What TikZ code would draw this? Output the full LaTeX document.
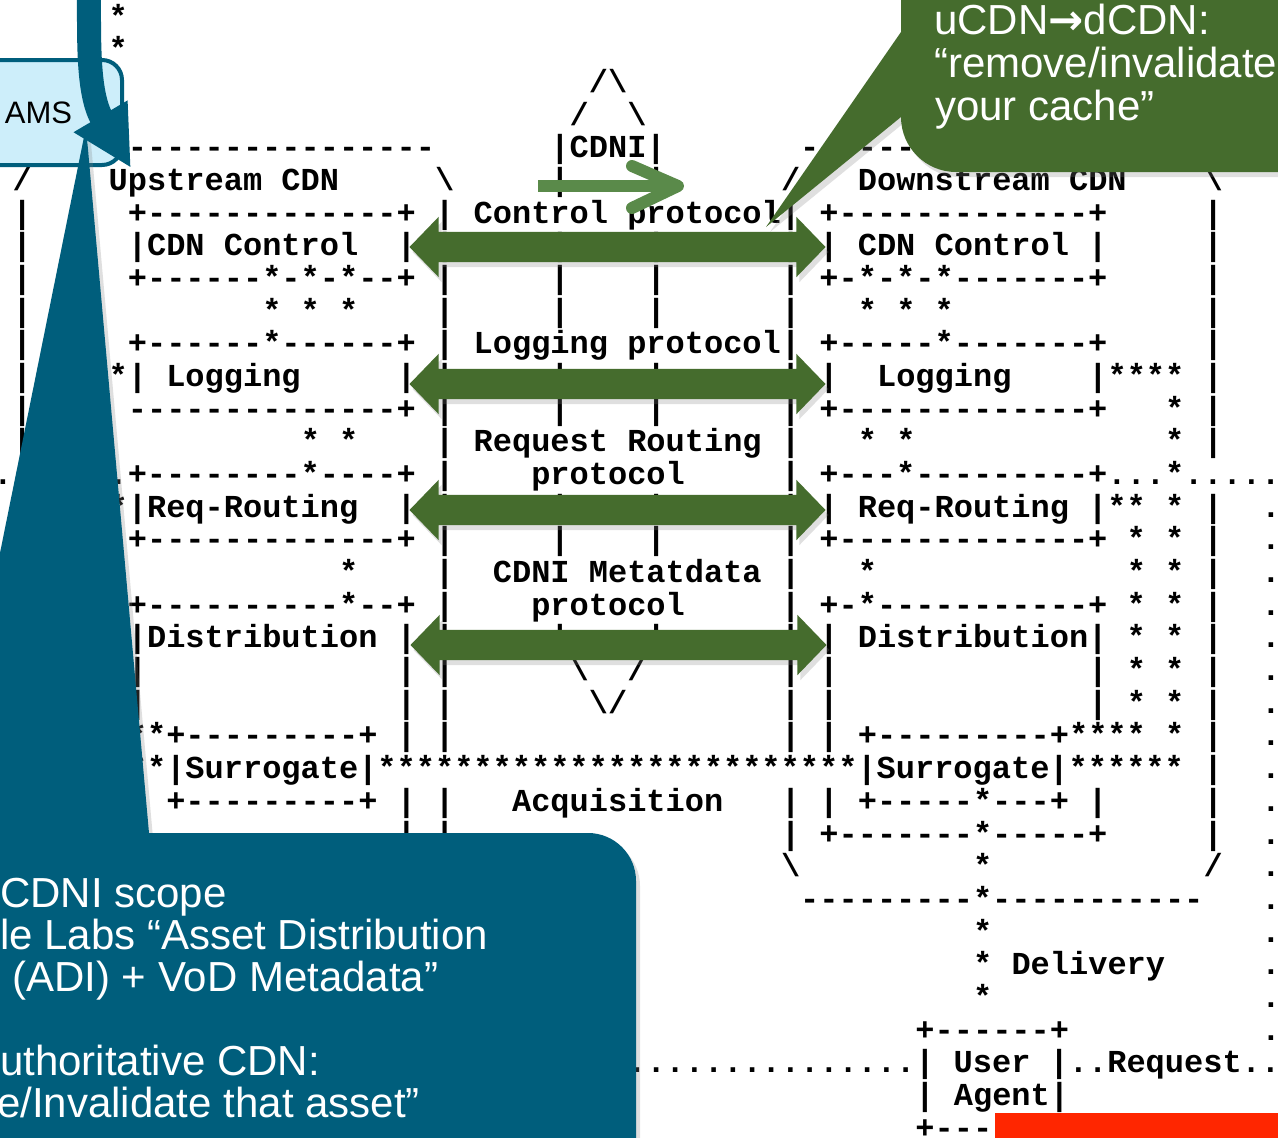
\documentclass[tikz,border=0pt]{standalone}
\usepackage{fontspec}
\setmonofont{Liberation Mono}
\setsansfont{Liberation Sans}
\newfontfamily\arrowfont{DejaVu Sans}
\usetikzlibrary{shapes.arrows,shadows,arrows.meta}

\definecolor{cdniteal}{HTML}{005E7C}
\definecolor{cdnigreen}{HTML}{456C2D}
\definecolor{cdnilight}{HTML}{5A8A4A}
\definecolor{amsblue}{HTML}{CDEEFA}
\definecolor{cdnired}{HTML}{FF2600}

\tikzset{
	asciitext/.style={anchor=base west, inner sep=0pt, font=\ttfamily\bfseries\fontsize{32}{32}\selectfont},
	calltext/.style={anchor=base west, inner sep=0pt, text=white, font=\sffamily\fontsize{42}{42}\selectfont},
	protoarrow/.style={double arrow, fill=cdnigreen, minimum height=416pt, minimum width=60pt,
		double arrow head extend=15pt, double arrow tip angle=92, inner xsep=0pt, inner ysep=15pt,
		drop shadow={opacity=.25, shadow xshift=3pt, shadow yshift=-5pt}},
	hintarrow/.style={draw=cdnilight, line width=12pt},
	amsbox/.style={draw=cdniteal, line width=4pt, fill=amsblue, rounded corners=20pt,
		minimum width=167pt, minimum height=105pt, font=\sffamily\fontsize{31}{31}\selectfont},
	amsarrow/.style={draw=cdniteal, line width=24pt, -{Triangle[length=60pt, width=58pt]}},
	callout/.style={drop shadow={opacity=.25, shadow xshift=4pt, shadow yshift=-5pt}}
}

\newcommand\asc[3]{\node[asciitext] (c#1-#2) at ({#2*19.21-6.8},{27+#1*32.68}) {#3};}

\begin{document}
\begin{tikzpicture}[x=1pt,y=-1pt]
	\path[fill=white, use as bounding box] (0,0) rectangle (1278,1138);

	\asc{0}{6}{*}
	\asc{1}{6}{*}
	\asc{2}{31}{/\textbackslash}
	\asc{3}{30}{/}
	\asc{3}{33}{\textbackslash}
	\asc{4}{2}{---------------------}
	\asc{4}{29}{|CDNI|}
	\asc{4}{42}{---------------------}
	\asc{5}{1}{/}
	\asc{5}{6}{Upstream CDN}
	\asc{5}{23}{\textbackslash}
	\asc{5}{41}{/}
	\asc{5}{45}{Downstream CDN}
	\asc{5}{63}{\textbackslash}
	\asc{6}{7}{+-------------+}
	\asc{6}{25}{Control protocol}
	\asc{6}{43}{+-------------+}
	\asc{7}{7}{|CDN Control}
	\asc{7}{43}{| CDN Control |}
	\asc{8}{7}{+------*-*-*--+}
	\asc{8}{43}{+-*-*-*-------+}
	\asc{9}{14}{* * *}
	\asc{9}{45}{* * *}
	\asc{10}{7}{+------*------+}
	\asc{10}{25}{Logging protocol}
	\asc{10}{43}{+-----*-------+}
	\asc{11}{6}{*| Logging}
	\asc{11}{43}{|}
	\asc{11}{46}{Logging}
	\asc{11}{57}{|****}
	\asc{12}{7}{--------------+}
	\asc{12}{43}{+-------------+}
	\asc{12}{61}{*}
	\asc{13}{16}{* *}
	\asc{13}{25}{Request Routing}
	\asc{13}{45}{* *}
	\asc{13}{61}{*}
	\asc{14}{0}{.......+--------*----+}
	\asc{14}{28}{protocol}
	\asc{14}{43}{+---*---------+...*.....}
	\asc{15}{6}{*|Req-Routing}
	\asc{15}{43}{| Req-Routing |** *}
	\asc{16}{7}{+-------------+}
	\asc{16}{43}{+-------------+ * *}
	\asc{17}{18}{*}
	\asc{17}{26}{CDNI Metatdata}
	\asc{17}{45}{*}
	\asc{17}{59}{* *}
	\asc{18}{7}{+----------*--+}
	\asc{18}{28}{protocol}
	\asc{18}{43}{+-*-----------+ * *}
	\asc{19}{7}{|Distribution}
	\asc{19}{43}{| Distribution| * *}
	\asc{20}{30}{\textbackslash}
	\asc{20}{33}{/}
	\asc{21}{31}{\textbackslash/}
	\asc{22}{7}{**+---------+}
	\asc{22}{45}{+---------+**** *}
	\asc{23}{7}{**|Surrogate|*************************|Surrogate|******}
	\asc{24}{9}{+---------+}
	\asc{24}{27}{Acquisition}
	\asc{24}{43}{| +-----*---+ |}
	\asc{25}{7}{--------------}
	\asc{25}{43}{+-------*-----+}
	\asc{26}{41}{\textbackslash}
	\asc{26}{51}{*}
	\asc{26}{63}{/}
	\asc{27}{42}{---------*-----------}
	\asc{28}{51}{*}
	\asc{29}{51}{* Delivery}
	\asc{30}{51}{*}
	\asc{31}{48}{+------+}
	\asc{32}{33}{...............| User |..Request..}
	\asc{33}{48}{| Agent|}
	\asc{34}{48}{+---}

	\foreach \r in {6,...,13} {\asc{\r}{1}{|}}
	\foreach \r in {20,21} {\asc{\r}{7}{|}}
	\foreach \r in {7,11,15,19,20,21,22,24,25} {\asc{\r}{21}{|}}
	\foreach \r in {6,...,22,24,25} {\asc{\r}{23}{|}}
	\foreach \r in {5,7,8,9,11,12,15,16,19} {\asc{\r}{29}{|} \asc{\r}{34}{|}}
	\foreach \r in {6,...,22,24,25} {\asc{\r}{41}{|}}
	\foreach \r in {20,21,22} {\asc{\r}{43}{|}}
	\foreach \r in {20,21} {\asc{\r}{57}{| * *}}
	\foreach \r in {6,...,13,15,16,...,25} {\asc{\r}{63}{|}}
	\foreach \r in {15,...,31} {\asc{\r}{66}{.}}

	\node[protoarrow] (ctrlarrow) at (617.5,247) {};
	\node[protoarrow] (logarrow) at (617.5,384) {};
	\node[protoarrow] (rrarrow) at (617.5,510) {};
	\node[protoarrow] (metaarrow) at (618.5,645) {};

	\coordinate (hinta) at (538,186);
	\coordinate (hintb) at (678,186);
	\draw[hintarrow] (hinta) -- (hintb);
	\draw[hintarrow, line cap=round, line join=round] (632,166) -- (hintb) -- (632,208);

	\node[amsbox] (ams) at (38.5,112.5) {AMS};

	\fill[cdniteal, callout] (86,127) -- (149,833) -- (588,833)
		arc[start angle=-90, end angle=0, radius=48] -- (636,1160) -- (-20,1160) -- (-20,652) -- cycle;
	\coordinate (amstop) at (89,-5);
	\coordinate (amstip) at (131,168);
	\draw[amsarrow] (amstop) .. controls (89,45) and (88,95) .. (amstip);

	\node[calltext] (scope1) at (0,907) {CDNI scope};
	\node[calltext] (scope2) at (0,949) {le Labs “Asset Distribution};
	\node[calltext] (scope3) at (12,991) {(ADI) + VoD Metadata”};
	\node[calltext] (scope4) at (0,1075) {uthoritative CDN:};
	\node[calltext] (scope5) at (-3,1117) {e/Invalidate that asset”};

	\fill[cdnigreen, callout] (901,-20) -- (901,32) -- (766,227) -- (901,117)
		arc[start angle=180, end angle=90, radius=55] -- (1300,172) -- (1300,-20) -- cycle;
	\node[calltext] (inval1) at (934,34) {uCDN{\arrowfont\bfseries →}dCDN:};
	\node[calltext] (inval2) at (934,77) {“remove/invalidate};
	\node[calltext] (inval3) at (935,120) {your cache”};

	\fill[cdnired] (995,1113) rectangle (1300,1150);
\end{tikzpicture}
\end{document}
